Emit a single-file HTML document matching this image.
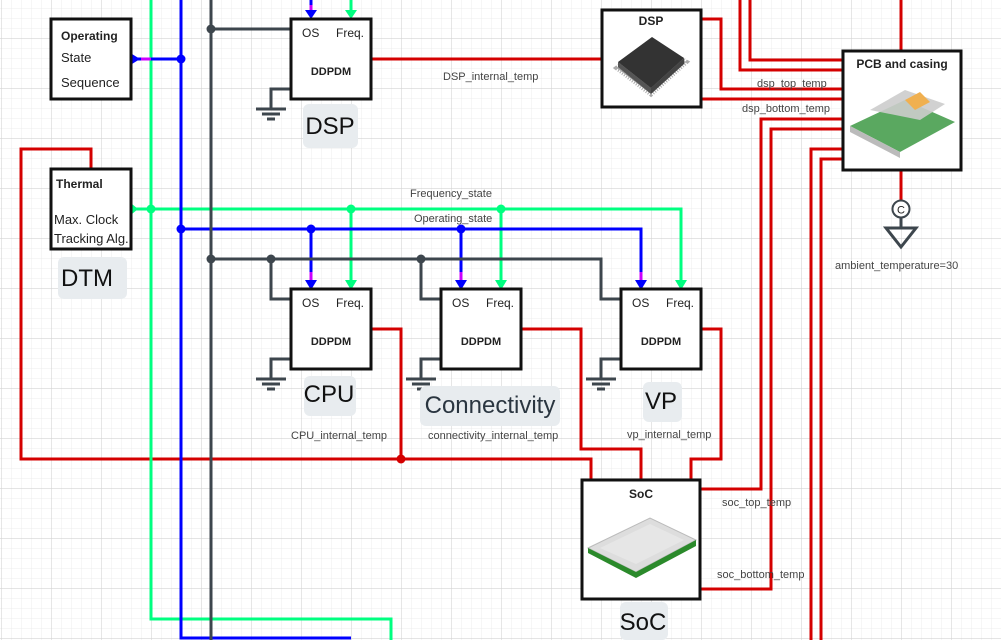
<!DOCTYPE html>
<html><head><meta charset="utf-8"><style>
html,body{margin:0;padding:0;background:#fff;}
svg{display:block;font-family:"Liberation Sans",sans-serif;}
</style></head><body>
<svg width="1001" height="640" viewBox="0 0 1001 640" xmlns="http://www.w3.org/2000/svg">
<defs>
<pattern id="minor" width="10" height="10" patternUnits="userSpaceOnUse" x="1" y="-2">
<path d="M0 0H10M0 0V10" stroke="#ececec" stroke-width="1" fill="none"/>
</pattern>
<pattern id="major" width="50" height="50" patternUnits="userSpaceOnUse" x="1" y="-12">
<path d="M0 0H50M0 0V50" stroke="#d4d4d4" stroke-width="1.2" fill="none"/>
</pattern>
</defs>
<rect width="1001" height="640" fill="#fff"/>
<rect width="1001" height="640" fill="url(#minor)"/>
<rect width="1001" height="640" fill="url(#major)"/>

<g fill="none" stroke-width="3">
<g stroke="#d40000">
<path d="M91 169V149H21V459H591V480"/>
<path d="M371 329H401V459"/>
<path d="M521 329H581V449H641V480"/>
<path d="M701 329H721V459H691V480"/>
<path d="M371 59H602"/>
<path d="M702 19H721V89H843"/>
<path d="M702 99H843"/>
<path d="M740 0V70H843"/>
<path d="M750 0V60H843"/>
<path d="M901 0V51"/>
<path d="M901 170V200"/>
<path d="M843 119H761V489H701"/>
<path d="M843 129H771V589H701"/>
<path d="M843 149H811V640"/>
<path d="M843 159H821V640"/>
</g>
<g stroke="#00ff80">
<path d="M151 0V619H391V640"/>
<path d="M131 209H681V280"/>
<path d="M351 0V12"/>
<path d="M351 209V280"/>
<path d="M501 209V280"/>
</g>
<g stroke="#0000ff">
<path d="M181 0V638H351"/>
<path d="M131 59H181"/>
<path d="M181 229H641V272"/>
<path d="M311 229V272"/>
<path d="M461 229V272"/>
<path d="M311 0V5"/>
</g>
<g stroke="#cc00ff">
<path d="M311 272V282M461 272V282M641 272V282M311 5V12M141 59H151"/>
</g>
<g stroke="#3d464d">
<path d="M211 0V640"/>
<path d="M211 29H291"/>
<path d="M211 259H601V299H621"/>
<path d="M271 259V299H291"/>
<path d="M421 259V299H441"/>
</g>
</g>
<g>
<path d="M305 280L317 280L311 290Z" fill="#0000ff"/>
<path d="M455 280L467 280L461 290Z" fill="#0000ff"/>
<path d="M635 280L647 280L641 290Z" fill="#0000ff"/>
<path d="M305 10L317 10L311 19Z" fill="#0000ff"/>
<path d="M345 280L357 280L351 290Z" fill="#00ff80"/>
<path d="M495 280L507 280L501 290Z" fill="#00ff80"/>
<path d="M675 280L687 280L681 290Z" fill="#00ff80"/>
<path d="M345 10L357 10L351 19Z" fill="#00ff80"/>
<path d="M132 54L132 64L140 59Z" fill="#0000ff"/>
<path d="M132 204L132 214L138 209Z" fill="#00ff80"/>
</g>
<g>
<circle cx="181" cy="59" r="4.5" fill="#0000ff"/>
<circle cx="181" cy="229" r="4.5" fill="#0000ff"/>
<circle cx="311" cy="229" r="4.5" fill="#0000ff"/>
<circle cx="461" cy="229" r="4.5" fill="#0000ff"/>
<circle cx="151" cy="209" r="4.5" fill="#00ff80"/>
<circle cx="351" cy="209" r="4.5" fill="#00ff80"/>
<circle cx="501" cy="209" r="4.5" fill="#00ff80"/>
<circle cx="211" cy="29" r="4.5" fill="#3d464d"/>
<circle cx="211" cy="259" r="4.5" fill="#3d464d"/>
<circle cx="271" cy="259" r="4.5" fill="#3d464d"/>
<circle cx="421" cy="259" r="4.5" fill="#3d464d"/>
<circle cx="401" cy="459" r="4.5" fill="#d40000"/>
</g>
<g stroke="#3d464d" stroke-width="3" fill="none">
<path d="M291 89H271V109M256 109H286M262 114H280M267 119H275"/>
<path d="M291 359H271V379M256 379H286M262 384H280M267 389H275"/>
<path d="M441 359H421V379M406 379H436M412 384H430M417 389H425"/>
<path d="M621 359H601V379M586 379H616M592 384H610M597 389H605"/>
</g>
<g fill="#fff" stroke="#111" stroke-width="3">
<rect x="51" y="19" width="80" height="80"/>
<rect x="51" y="169" width="80" height="80"/>
<rect x="291" y="19" width="80" height="80"/>
<rect x="291" y="289" width="80" height="80"/>
<rect x="441" y="289" width="80" height="80"/>
<rect x="621" y="289" width="80" height="80"/>
<rect x="602" y="10" width="99" height="97"/>
<rect x="843" y="51" width="118" height="119"/>
<rect x="582" y="480" width="118" height="119"/>
</g>
<g font-size="12" fill="#222">
<text x="61" y="40" font-weight="bold">Operating</text>
<text x="61" y="62" font-size="13">State</text>
<text x="61" y="87" font-size="13">Sequence</text>
<text x="56" y="188" font-weight="bold">Thermal</text>
<text x="54" y="224" font-size="13">Max. Clock</text>
<text x="54" y="243" font-size="13">Tracking Alg.</text>
</g>
<g font-size="12" fill="#222">
<text x="302" y="37">OS</text><text x="336" y="37">Freq.</text>
<text x="331" y="75" text-anchor="middle" font-weight="bold" font-size="11">DDPDM</text>
<text x="302" y="307">OS</text><text x="336" y="307">Freq.</text>
<text x="331" y="345" text-anchor="middle" font-weight="bold" font-size="11">DDPDM</text>
<text x="452" y="307">OS</text><text x="486" y="307">Freq.</text>
<text x="481" y="345" text-anchor="middle" font-weight="bold" font-size="11">DDPDM</text>
<text x="632" y="307">OS</text><text x="666" y="307">Freq.</text>
<text x="661" y="345" text-anchor="middle" font-weight="bold" font-size="11">DDPDM</text>
<text x="651" y="25" text-anchor="middle" font-weight="bold">DSP</text>
<text x="902" y="68" text-anchor="middle" font-weight="bold">PCB and casing</text>
<text x="641" y="498" text-anchor="middle" font-weight="bold">SoC</text>
</g>
<g>
<path d="M617 68L652 42L686 62L651 94Z" fill="#999" stroke="#aaa" stroke-width="5" stroke-dasharray="1 1.5"/>
<path d="M618 62L652 37L684 58L651 88Z" fill="#333"/>
<path d="M618 62L618 67L651 94L651 88Z" fill="#555"/>
<path d="M651 88L651 94L684 64L684 58Z" fill="#444"/>
<path d="M588 548L650 518L696 540L636 572Z" fill="#ddd" stroke="#bbb"/>
<path d="M600 548L650 524L684 540L636 564Z" fill="#e6e6e6"/>
<path d="M588 548L588 553L636 578L636 572Z" fill="#2b8a2b"/>
<path d="M636 572L636 578L696 546L696 540Z" fill="#2b8a2b"/>
<path d="M850 126L905 100L955 122L900 152Z" fill="#5aa860"/>
<path d="M850 126L850 132L900 158L900 152Z" fill="#bbb"/>
<path d="M870 110L905 90L945 104L920 120Z" fill="#ccc" opacity="0.9"/>
<path d="M905 100L920 92L930 102L915 110Z" fill="#f0b050"/>
</g>
<circle cx="901" cy="209" r="8.5" fill="#fff" stroke="#3d464d" stroke-width="2"/>
<text x="901" y="213.5" text-anchor="middle" font-size="11" fill="#222">C</text>
<path d="M901 218V228M886 228H916L901 247Z" fill="none" stroke="#3d464d" stroke-width="3"/>
<g font-size="11" fill="#444">
<text x="443" y="80">DSP_internal_temp</text>
<text x="757" y="87">dsp_top_temp</text>
<text x="742" y="112">dsp_bottom_temp</text>
<text x="410" y="197">Frequency_state</text>
<text x="414" y="222">Operating_state</text>
<text x="835" y="269">ambient_temperature=30</text>
<text x="291" y="439">CPU_internal_temp</text>
<text x="428" y="439">connectivity_internal_temp</text>
<text x="627" y="438">vp_internal_temp</text>
<text x="722" y="506">soc_top_temp</text>
<text x="717" y="578">soc_bottom_temp</text>
</g>
<g>
<rect x="303" y="104" width="55" height="44" rx="6" fill="#e8ecef"/>
<text x="330" y="134" text-anchor="middle" font-size="24" fill="#111">DSP</text>
<rect x="58" y="257" width="69" height="42" rx="6" fill="#e8ecef"/>
<text x="87" y="286" text-anchor="middle" font-size="24" fill="#111">DTM</text>
<rect x="304" y="376" width="52" height="40" rx="6" fill="#e8ecef"/>
<text x="329" y="402" text-anchor="middle" font-size="24" fill="#111">CPU</text>
<rect x="420" y="386" width="140" height="40" rx="6" fill="#e8ecef"/>
<text x="490" y="413" text-anchor="middle" font-size="24" fill="#2a3540">Connectivity</text>
<rect x="643" y="382" width="39" height="40" rx="6" fill="#e8ecef"/>
<text x="661" y="409" text-anchor="middle" font-size="24" fill="#111">VP</text>
<rect x="620" y="602" width="48" height="38" rx="6" fill="#e8ecef"/>
<text x="643" y="630" text-anchor="middle" font-size="24" fill="#111">SoC</text>
</g>
</svg>
</body></html>
